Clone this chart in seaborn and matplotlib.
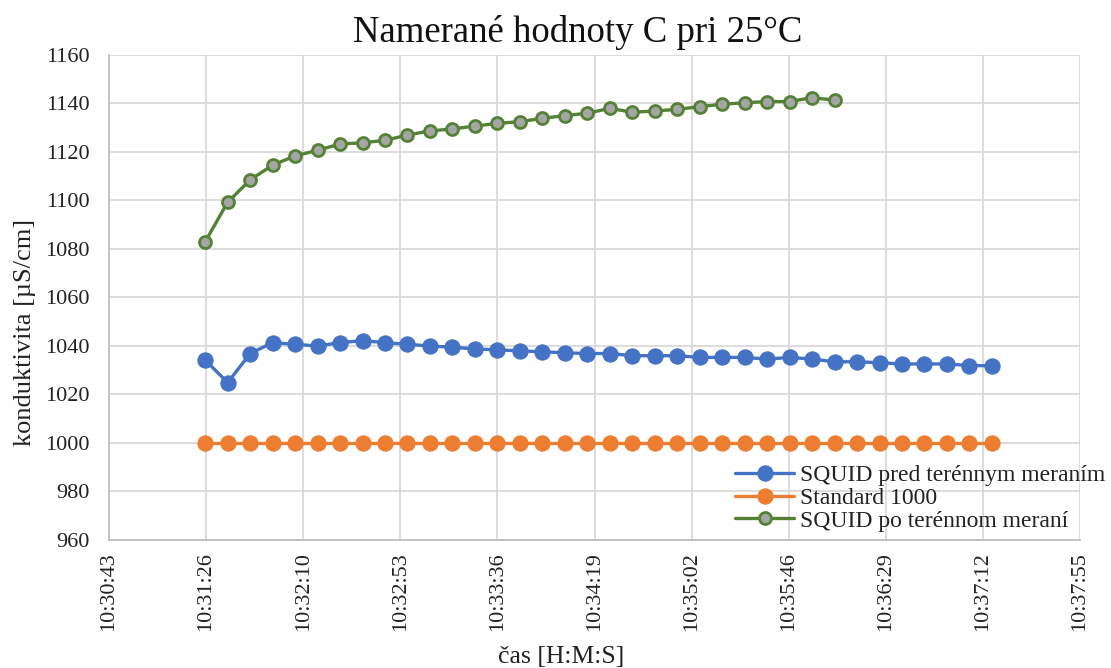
import matplotlib
matplotlib.use("Agg")
import matplotlib.pyplot as plt
import seaborn as sns
import pandas as pd
import numpy as np

times = ["10:31:26", "10:31:36", "10:31:46", "10:31:56", "10:32:06", "10:32:16",
         "10:32:26", "10:32:36", "10:32:46", "10:32:56", "10:33:06", "10:33:16",
         "10:33:26", "10:33:36", "10:33:46", "10:33:56", "10:34:06", "10:34:16",
         "10:34:26", "10:34:36", "10:34:46", "10:34:56", "10:35:06", "10:35:16",
         "10:35:26", "10:35:36", "10:35:46", "10:35:56", "10:36:06", "10:36:16",
         "10:36:26", "10:36:36", "10:36:46", "10:36:56", "10:37:06", "10:37:16"]

squid_pred = [1034.2, 1024.9, 1036.9, 1041.4, 1040.7, 1040.0, 1041.4, 1042.2, 1041.4,
              1040.7, 1040.0, 1039.5, 1038.8, 1038.4, 1038.0, 1037.6, 1037.2, 1036.9,
              1036.9, 1036.0, 1036.0, 1036.0, 1035.3, 1035.3, 1035.3, 1034.6, 1035.3,
              1034.6, 1033.5, 1033.5, 1033.1, 1032.6, 1032.6, 1032.6, 1031.9, 1031.9]

standard = [1000] * 36

squid_po = [1083.0, 1099.3, 1108.5, 1114.6, 1118.4, 1120.7, 1123.3, 1123.8, 1124.8,
            1127.0, 1128.7, 1129.5, 1130.7, 1131.8, 1132.5, 1133.9, 1135.0, 1136.0,
            1138.0, 1136.4, 1136.9, 1137.6, 1138.7, 1139.7, 1140.3, 1140.8, 1140.8,
            1142.4, 1141.4]

tick_labels = ["10:30:43", "10:31:26", "10:32:10", "10:32:53", "10:33:36", "10:34:19",
               "10:35:02", "10:35:46", "10:36:29", "10:37:12", "10:37:55"]


def to_sec(t):
    h, m, s = map(int, t.split(":"))
    return h * 3600 + m * 60 + s


secs = [to_sec(t) for t in times]

sns.set_theme(style="white")
plt.rcParams["font.family"] = ["Liberation Serif", "DejaVu Serif"]

W, H = 1111, 668
fig = plt.figure(figsize=(W / 100, H / 100), dpi=100)
ax = fig.add_axes([109 / W, 1 - 540 / H, (1080 - 109) / W, (540 - 55) / H])

df1 = pd.DataFrame({"t": secs, "v": squid_pred})
df2 = pd.DataFrame({"t": secs, "v": standard})
df3 = pd.DataFrame({"t": secs[:len(squid_po)], "v": squid_po})

sns.lineplot(data=df1, x="t", y="v", ax=ax, color="#4472C4", lw=2.4, marker="o",
             markersize=11, markeredgecolor="#4472C4", markerfacecolor="#4472C4",
             label="SQUID pred terénnym meraním", zorder=3)
sns.lineplot(data=df2, x="t", y="v", ax=ax, color="#ED7D31", lw=2.4, marker="o",
             markersize=11, markeredgecolor="#ED7D31", markerfacecolor="#ED7D31",
             label="Standard 1000", zorder=3)
sns.lineplot(data=df3, x="t", y="v", ax=ax, color="#548235", lw=2.4, marker="o",
             markersize=8.6, markeredgecolor="#548235", markeredgewidth=2.0,
             markerfacecolor="#A5A5A5", label="SQUID po terénnom meraní", zorder=3)

t0 = 10 * 3600 + 30 * 60 + 43.2
step = 43.2
ticks = [t0 + step * i for i in range(len(tick_labels))]
ax.set_xlim(ticks[0], ticks[-1])
ax.set_xticks(ticks)
ax.set_xticklabels(tick_labels, rotation=90, fontsize=16, color="#222222")
ax.set_ylim(960, 1160)
ax.set_yticks(np.arange(960, 1161, 20))
ax.tick_params(axis="y", labelsize=16, colors="#222222", length=0, pad=14)
ax.tick_params(axis="x", length=0, pad=9)
ax.grid(True, color="#D9D9D9", lw=1.3, zorder=0)
ax.set_axisbelow(True)
for s in ["top", "right"]:
    ax.spines[s].set_visible(False)
for s in ["left", "bottom"]:
    ax.spines[s].set_color("#BFBFBF")
    ax.spines[s].set_linewidth(1.3)

ax.set_xlabel("čas [H:M:S]", fontsize=18.5, color="#222222")
ax.set_ylabel("konduktivita [µS/cm]", fontsize=19, color="#222222")
ax.xaxis.set_label_coords(561 / W, 1 - 657 / H, transform=fig.transFigure)
ax.yaxis.set_label_coords(25 / W, 1 - 332 / H, transform=fig.transFigure)
ax.xaxis.label.set_va("center")
ax.yaxis.label.set_va("center")
ax.set_title("")
fig.text(578 / W, 1 - 32 / H, "Namerané hodnoty C pri 25°C", fontsize=26.5,
         color="#111111", ha="center", va="center")

leg = ax.legend(loc="center left", bbox_to_anchor=(735 / W, 1 - 498 / H),
                bbox_transform=fig.transFigure, frameon=False,
                fontsize=17, handlelength=2.5, handletextpad=0.25, labelspacing=0.06,
                borderaxespad=0.0, borderpad=0.0)
for txt in leg.get_texts():
    txt.set_color("#222222")

fig.savefig("out.png", dpi=100)
